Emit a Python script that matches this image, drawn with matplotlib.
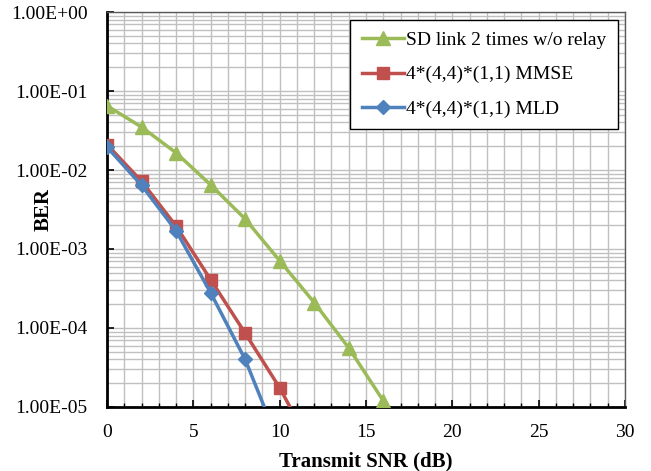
import numpy as np
import matplotlib
matplotlib.use("Agg")
import matplotlib.pyplot as plt
from matplotlib.ticker import LogLocator, MultipleLocator, FixedFormatter, FixedLocator

plt.rcParams['font.family'] = ['Liberation Serif', 'DejaVu Serif']

# BER vs transmit SNR
snr_sd = [0, 2, 4, 6, 8, 10, 12, 14, 16, 18]
ber_sd = [6.5e-2, 3.5e-2, 1.65e-2, 6.5e-3, 2.4e-3, 7.1e-4, 2.1e-4, 5.6e-5, 1.2e-5, 2.2e-6]

snr_mmse = [0, 2, 4, 6, 8, 10, 12]
ber_mmse = [2.1e-2, 7.2e-3, 1.95e-3, 4.1e-4, 8.6e-5, 1.75e-5, 2.7e-6]

snr_mld = [0, 2, 4, 6, 8, 10]
ber_mld = [1.95e-2, 6.4e-3, 1.7e-3, 2.8e-4, 4.0e-5, 3.3e-6]

labels = ['SD link 2 times w/o relay', '4*(4,4)*(1,1) MMSE', '4*(4,4)*(1,1) MLD']
ytick_vals = [1e0, 1e-1, 1e-2, 1e-3, 1e-4, 1e-5]
ytick_text = ['1.00E+00', '1.00E-01', '1.00E-02', '1.00E-03', '1.00E-04', '1.00E-05']

fig = plt.figure(figsize=(6.51, 4.71), dpi=100)
ax = fig.add_axes([0.1644, 0.1359, 0.7956, 0.8386])

ax.plot(snr_sd, ber_sd, color='#9BBB59', lw=2.5, marker='^', ms=10, label=labels[0], zorder=3)
ax.plot(snr_mmse, ber_mmse, color='#C0504D', lw=2.5, marker='s', ms=9, label=labels[1], zorder=4)
ax.plot(snr_mld, ber_mld, color='#4F81BD', lw=2.5, marker='D', ms=7, label=labels[2], zorder=5)

ax.set_yscale('log')
ax.set_xlim(0, 30)
ax.set_ylim(1e-5, 1e0)
ax.xaxis.set_major_locator(MultipleLocator(5))
ax.xaxis.set_minor_locator(MultipleLocator(1))
ax.yaxis.set_major_locator(FixedLocator(ytick_vals))
ax.yaxis.set_major_formatter(FixedFormatter(ytick_text))
ax.yaxis.set_minor_locator(LogLocator(base=10, subs=np.arange(2, 10)))
ax.yaxis.set_minor_formatter(plt.NullFormatter())

ax.grid(True, which='both', color='#c0c0c0', lw=1.0, zorder=0)
ax.set_axisbelow(True)
ax.tick_params(axis='both', which='major', labelsize=14, direction='in', length=5, width=1.2)
ax.tick_params(axis='y', which='major', pad=14)
ax.tick_params(axis='x', which='major', pad=12)
ax.tick_params(axis='x', which='minor', direction='in', length=3, width=1)
ax.tick_params(axis='y', which='minor', length=0)

for s in ['left', 'bottom']:
    ax.spines[s].set_linewidth(2)
    ax.spines[s].set_color('black')
for s in ['top', 'right']:
    ax.spines[s].set_linewidth(1)
    ax.spines[s].set_color('#595959')

ax.set_xlabel('Transmit SNR (dB)', fontsize=15, fontweight='bold', labelpad=8)
ax.set_ylabel('BER', fontsize=15, fontweight='bold')
ax.yaxis.set_label_coords(-0.104, 0.5)

leg = ax.legend(loc='upper right', bbox_to_anchor=(0.987, 0.98), borderaxespad=0, fontsize=14,
                frameon=True, fancybox=False, edgecolor='black', framealpha=1,
                handlelength=2.2, handletextpad=0.1, borderpad=0.6, labelspacing=0.85)
leg.get_frame().set_linewidth(1)

fig.savefig('out.png', dpi=100)
